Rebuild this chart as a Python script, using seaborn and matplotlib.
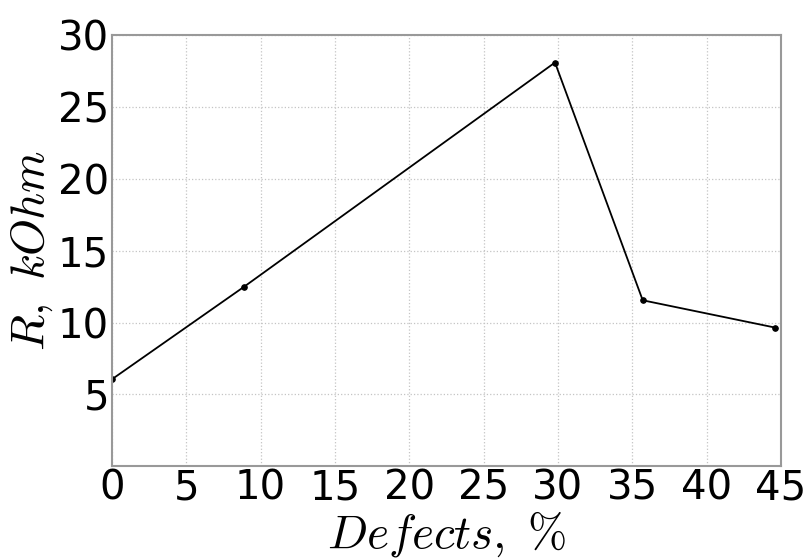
import seaborn as sns
import matplotlib.pyplot as plt
import pandas as pd

# values
defects = [0, 8.9, 29.8, 35.7, 44.6]
resistance = [6.05, 12.5, 28.1, 11.55, 9.65]
x_ticks = [0, 5, 10, 15, 20, 25, 30, 35, 40, 45]
y_ticks = [5, 10, 15, 20, 25, 30]

df = pd.DataFrame({'defects': defects, 'resistance': resistance})

sns.set_style("white")
plt.rcParams['mathtext.fontset'] = 'cm'
plt.rcParams['text.color'] = 'black'
plt.rcParams['xtick.color'] = 'black'
plt.rcParams['ytick.color'] = 'black'
plt.rcParams['axes.labelcolor'] = 'black'

fig = plt.figure(figsize=(8.11, 5.59), dpi=100)
ax = fig.add_axes([0.138, 0.166, 0.825, 0.771])

sns.lineplot(data=df, x='defects', y='resistance', color='black', marker='o',
             markersize=4, markeredgecolor='black', linewidth=1.3, ax=ax)

ax.set_xlim(0, 45)
ax.set_ylim(0, 30)
ax.set_xticks(x_ticks)
ax.set_yticks(y_ticks)
ax.tick_params(labelsize=29, length=0, pad=2)
ax.grid(True, linestyle=':', color='#c4c4c4', linewidth=0.9)

for s in ax.spines.values():
    s.set_color('#999999')
    s.set_linewidth(1.5)

ax.set_xlabel(r'$Defects,\ \%$', fontsize=34, labelpad=0)
ax.set_ylabel(r'$R,\ kOhm$', fontsize=34, labelpad=2)

plt.savefig('out.png', dpi=100)
